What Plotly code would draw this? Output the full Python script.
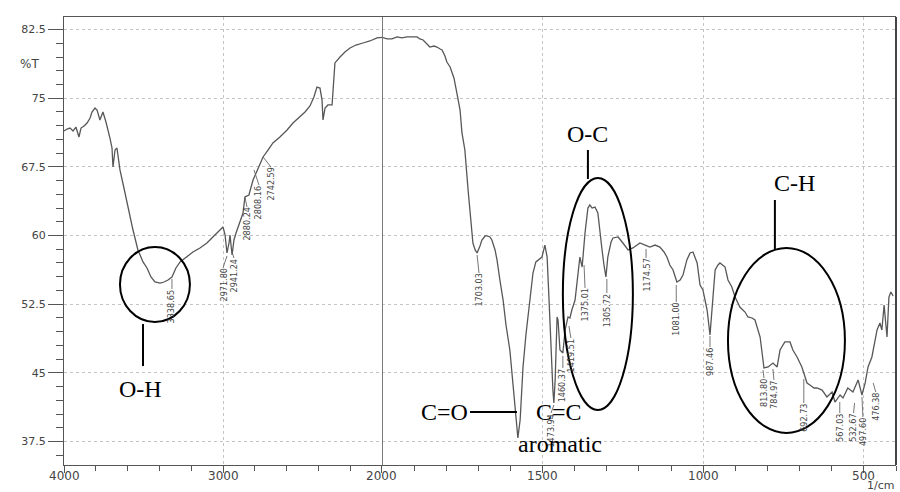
import plotly.graph_objects as go

# ---------------- data ----------------
# spectrum above 2000 1/cm (compressed half-scale section)
wn_high = [4000, 3981, 3962, 3943, 3925, 3906, 3893, 3874, 3855, 3836, 3824, 3805, 3792, 3774,
           3755, 3736, 3711, 3698, 3692, 3679, 3667, 3648, 3623, 3598, 3566, 3535, 3503, 3478,
           3453, 3428, 3396, 3371, 3346, 3321, 3296, 3270, 3233, 3189, 3145, 3101, 3057, 3019,
           3000, 2987, 2975, 2962, 2956, 2943, 2931, 2918, 2893, 2874, 2862, 2837, 2811, 2780,
           2748, 2717, 2686, 2642, 2597, 2560, 2516, 2484, 2453, 2428, 2409, 2390, 2377, 2371,
           2358, 2340, 2314, 2296, 2264, 2233, 2201, 2164, 2120, 2076, 2031, 2000]
t_high = [71.42, 71.63, 71.74, 71.42, 71.85, 70.76, 71.74, 71.96, 72.29, 72.84, 73.49, 73.93, 73.71, 72.62,
          73.49, 72.40, 70.65, 69.56, 67.48, 69.34, 69.56, 67.16, 65.19, 63.00, 60.60, 58.42, 57.11, 56.45,
          55.47, 54.92, 54.81, 54.92, 55.14, 55.47, 56.45, 57.11, 57.65, 58.20, 58.64, 59.18, 59.95, 60.60,
          60.93, 60.06, 58.09, 59.18, 60.06, 57.87, 59.51, 60.27, 61.48, 62.46, 64.21, 64.43, 66.06, 67.37,
          68.58, 69.34, 70.11, 70.76, 71.53, 72.29, 72.95, 73.49, 74.15, 75.13, 76.22, 76.11, 74.80, 72.62,
          73.93, 74.26, 74.26, 78.85, 79.50, 80.05, 80.48, 80.81, 81.03, 81.25, 81.58, 81.65]

# spectrum below 2000 1/cm
wn_low = [2000, 1984, 1969, 1953, 1938, 1922, 1907, 1891, 1882, 1872, 1860, 1851, 1838, 1829,
          1819, 1813, 1804, 1798, 1788, 1776, 1767, 1757, 1751, 1742, 1732, 1726, 1717, 1710,
          1704, 1695, 1689, 1679, 1673, 1664, 1658, 1648, 1642, 1633, 1623, 1614, 1602, 1592,
          1586, 1580, 1577, 1570, 1561, 1552, 1546, 1536, 1530, 1521, 1514, 1502, 1493, 1486,
          1480, 1474, 1468, 1465, 1461, 1455, 1452, 1446, 1437, 1430, 1421, 1415, 1409, 1399,
          1393, 1384, 1377, 1368, 1359, 1353, 1346, 1337, 1328, 1321, 1315, 1309, 1303, 1297,
          1287, 1281, 1265, 1250, 1234, 1219, 1206, 1197, 1181, 1166, 1150, 1135, 1122, 1113,
          1104, 1094, 1082, 1072, 1063, 1051, 1041, 1032, 1019, 1010, 1001, 995, 988, 979,
          973, 963, 954, 948, 932, 923, 911, 901, 886, 870, 861, 848, 839, 823,
          811, 798, 783, 770, 761, 746, 730, 721, 708, 693, 683, 677, 668, 655,
          646, 630, 615, 599, 590, 574, 565, 550, 534, 518, 506, 496, 487, 475,
          459, 450, 444, 437, 428, 422, 416, 409]
t_low = [81.65, 81.47, 81.47, 81.69, 81.58, 81.69, 81.69, 81.69, 81.47, 81.36, 80.92, 80.59, 80.70, 80.59,
         80.37, 80.27, 79.61, 78.95, 78.41, 77.21, 75.57, 73.71, 71.20, 69.34, 64.97, 62.24, 59.18, 58.42,
         58.09, 58.85, 59.51, 59.95, 59.95, 59.84, 59.51, 58.42, 57.33, 55.14, 52.95, 50.22, 47.49, 43.67,
         40.94, 38.75, 37.88, 39.85, 45.64, 49.13, 51.10, 54.05, 55.90, 57.11, 57.33, 57.65, 58.96, 57.65,
         52.95, 47.49, 43.12, 41.70, 44.22, 51.10, 50.77, 47.49, 47.17, 49.68, 51.10, 50.99, 51.86, 52.95,
         55.14, 57.65, 56.56, 60.27, 63.00, 63.33, 63.00, 63.11, 62.46, 60.60, 58.42, 56.78, 55.47, 57.65,
         59.29, 59.73, 59.84, 59.18, 58.42, 58.64, 58.96, 59.18, 58.96, 58.74, 58.96, 58.74, 58.20, 57.65,
         56.78, 56.23, 54.92, 55.14, 55.69, 57.33, 58.09, 58.20, 57.00, 54.59, 54.05, 53.17, 51.86, 49.13,
         51.86, 56.23, 56.78, 57.00, 56.56, 55.14, 54.38, 53.28, 52.19, 51.64, 51.10, 50.99, 50.77, 48.91,
         45.53, 45.64, 46.07, 45.64, 47.49, 48.37, 48.37, 47.49, 46.73, 45.64, 44.54, 43.89, 43.67, 43.34,
         43.34, 43.12, 42.36, 42.90, 41.81, 42.58, 42.25, 43.34, 42.90, 44.22, 42.58, 43.89, 45.64, 46.73,
         49.68, 50.44, 49.68, 52.41, 48.91, 53.28, 53.83, 53.39]

y_tick_vals = [37.5, 45, 52.5, 60, 67.5, 75, 82.5]
y_tick_text = ["37.5", "45", "52.5", "60", "67.5", "75", "82.5"]
x_high_ticks = [4000, 3000]
x_low_ticks = [2000, 1500, 1000, 500]

# peak labels: text, label x (1/cm), label top (%T), leader start on curve
peak_text = ["3338.65", "2971.80", "2941.24", "2880.24", "2808.16", "2742.59",
             "1703.03", "1473.94", "1460.37", "1419.51", "1375.01", "1305.72",
             "1174.57", "1081.00", "987.46", "813.80", "784.97", "692.73",
             "567.03", "532.67", "497.60", "476.38"]
peak_w = [3321, 3000, 2931, 2849, 2774, 2698,
          1698, 1474, 1437, 1412, 1368, 1300,
          1178, 1084, 979, 811, 780, 687,
          575, 532, 503, 463]
peak_top = [54.16, 56.45, 57.54, 63.11, 65.52, 67.48,
            55.90, 40.60, 45.53, 48.80, 54.27, 53.72,
            57.54, 52.74, 47.82, 44.43, 44.22, 41.70,
            40.60, 40.60, 40.16, 42.90]
lead_w = [3321, 2975, 2943, 2862, 2805, 2748,
          1704, 1465, 1437, 1418, 1371, 1300,
          1178, 1084, 979, 814, 783, 687,
          575, 529, 506, 471]
lead_t = [55.25, 57.76, 58.20, 64.21, 67.16, 68.58,
          57.87, 41.48, 46.84, 50.11, 56.78, 55.25,
          58.53, 54.59, 49.02, 45.31, 45.42, 44.33,
          41.81, 41.70, 42.36, 43.89]

# functional group annotations
group_text = ["O-H", "O-C", "C-H", "C=O", "C=C", "aromatic"]
group_w = [3522, 1359, 717, 1804, 1449, 1446]
group_t = [43.23, 71.09, 65.74, 40.72, 40.72, 37.23]

# ellipses around band groups
ell_w0 = [3648, 1437, 923]
ell_w1 = [3208, 1219, 559]
ell_t0 = [58.74, 66.28, 58.64]
ell_t1 = [50.55, 40.94, 38.43]

# pointer lines
ptr_w0 = [3503, 1359, 777, 1726]
ptr_w1 = [3503, 1359, 777, 1580]
ptr_t0 = [50.33, 69.34, 63.88, 40.72]
ptr_t1 = [45.74, 66.17, 58.53, 40.72]


def xref_for(w):
    return "x" if w >= 2000 else "x2"


fig = go.Figure()
line_style = dict(color="#575757", width=1.3)
fig.add_trace(go.Scatter(x=wn_high, y=t_high, mode="lines", line=line_style,
                         xaxis="x", yaxis="y", hoverinfo="skip"))
fig.add_trace(go.Scatter(x=wn_low, y=t_low, mode="lines", line=line_style,
                         xaxis="x2", yaxis="y", hoverinfo="skip"))

shapes = []
annotations = []

# leader lines and peak labels
label_font = dict(family="Liberation Sans Narrow, DejaVu Sans Condensed, Arial Narrow, sans-serif",
                  size=9, color="#444444")
for txt, lw, lt, sw, st in zip(peak_text, peak_w, peak_top, lead_w, lead_t):
    shapes.append(dict(type="line", xref=xref_for(sw), yref="y", x0=sw, y0=st, x1=lw, y1=lt,
                       line=dict(color="#666666", width=0.9)))
    annotations.append(dict(text=txt, x=lw, y=lt, xref=xref_for(lw), yref="y", textangle=-90,
                            xanchor="center", yanchor="top", showarrow=False, font=label_font,
                            borderpad=0))

# ellipses
for w0, w1, t0, t1 in zip(ell_w0, ell_w1, ell_t0, ell_t1):
    shapes.append(dict(type="circle", xref=xref_for(w0), yref="y", x0=w0, x1=w1, y0=t0, y1=t1,
                       line=dict(color="black", width=2)))

# pointer lines
for w0, w1, t0, t1 in zip(ptr_w0, ptr_w1, ptr_t0, ptr_t1):
    shapes.append(dict(type="line", xref=xref_for(w0), yref="y", x0=w0, x1=w1, y0=t0, y1=t1,
                       line=dict(color="black", width=2)))

# group labels
for txt, w, t in zip(group_text, group_w, group_t):
    annotations.append(dict(text=txt, x=w, y=t, xref=xref_for(w), yref="y", showarrow=False,
                            xanchor="center", yanchor="middle",
                            font=dict(family="Liberation Serif, Times New Roman, serif", size=24,
                                      color="black")))

# x tick labels (placed as text just under the axis)
tick_font = dict(family="DejaVu Sans", size=12, color="#444444")
for v in x_high_ticks + x_low_ticks:
    annotations.append(dict(text=str(v), x=v, y=-0.025, xref=xref_for(v if v != 2000 else 1999),
                            yref="paper", showarrow=False, xanchor="center", yanchor="middle",
                            font=tick_font))

# scale-change line at 2000 and right border
shapes.append(dict(type="line", xref="x2", yref="paper", x0=2000, x1=2000, y0=0, y1=1,
                   line=dict(color="#7a7a7a", width=2)))
shapes.append(dict(type="line", xref="paper", yref="paper", x0=1, x1=1, y0=0, y1=1,
                   line=dict(color="#444444", width=2)))

annotations.append(dict(text="%T", xref="paper", yref="y", x=-0.041, y=78.74, showarrow=False,
                        xanchor="center", yanchor="middle",
                        font=dict(family="DejaVu Sans", size=12, color="#444444")))
annotations.append(dict(text="1/cm", xref="paper", yref="paper", x=0.981, y=-0.046,
                        showarrow=False, xanchor="center", yanchor="middle",
                        font=dict(family="DejaVu Sans", size=11, color="#444444")))

common_x = dict(ticks="outside", ticklen=7, tickcolor="#555555", showline=True, linecolor="#555555",
                linewidth=1.2, mirror=True, showgrid=True, gridcolor="#c4c4c4", griddash="dot",
                gridwidth=1, zeroline=False, showticklabels=False, anchor="y", tickmode="array")

fig.update_layout(
    width=900, height=492,
    margin=dict(l=64, r=4, t=17, b=27),
    paper_bgcolor="white", plot_bgcolor="white",
    showlegend=False,
    xaxis=dict(domain=[0, 0.3822], range=[4000, 2000], tickvals=x_high_ticks,
               minor=dict(tickmode="linear", tick0=0, dtick=200, ticks="outside", ticklen=5,
                          tickcolor="#555555", showgrid=False),
               **common_x),
    xaxis2=dict(domain=[0.3822, 1], range=[2000, 400], tickvals=x_low_ticks,
                minor=dict(tickmode="linear", tick0=0, dtick=100, ticks="outside", ticklen=5,
                           tickcolor="#555555", showgrid=False),
                **common_x),
    yaxis=dict(range=[34.93, 83.87], tickmode="array", tickvals=y_tick_vals, ticktext=y_tick_text,
               ticks="outside", ticklen=15, tickcolor="#555555", showline=True, linecolor="#555555",
               linewidth=1.2, showgrid=True, gridcolor="#c4c4c4", griddash="dot", zeroline=False,
               tickfont=dict(family="DejaVu Sans", size=11, color="#444444"), anchor="x",
               minor=dict(tickmode="linear", tick0=37.5, dtick=1.5, ticks="outside", ticklen=7,
                          tickcolor="#555555", showgrid=False)),
    shapes=shapes,
    annotations=annotations,
)

fig.write_html("out.html", config={"displayModeBar": False},
               post_script="document.body.style.margin='0px';document.body.style.overflow='hidden';")
